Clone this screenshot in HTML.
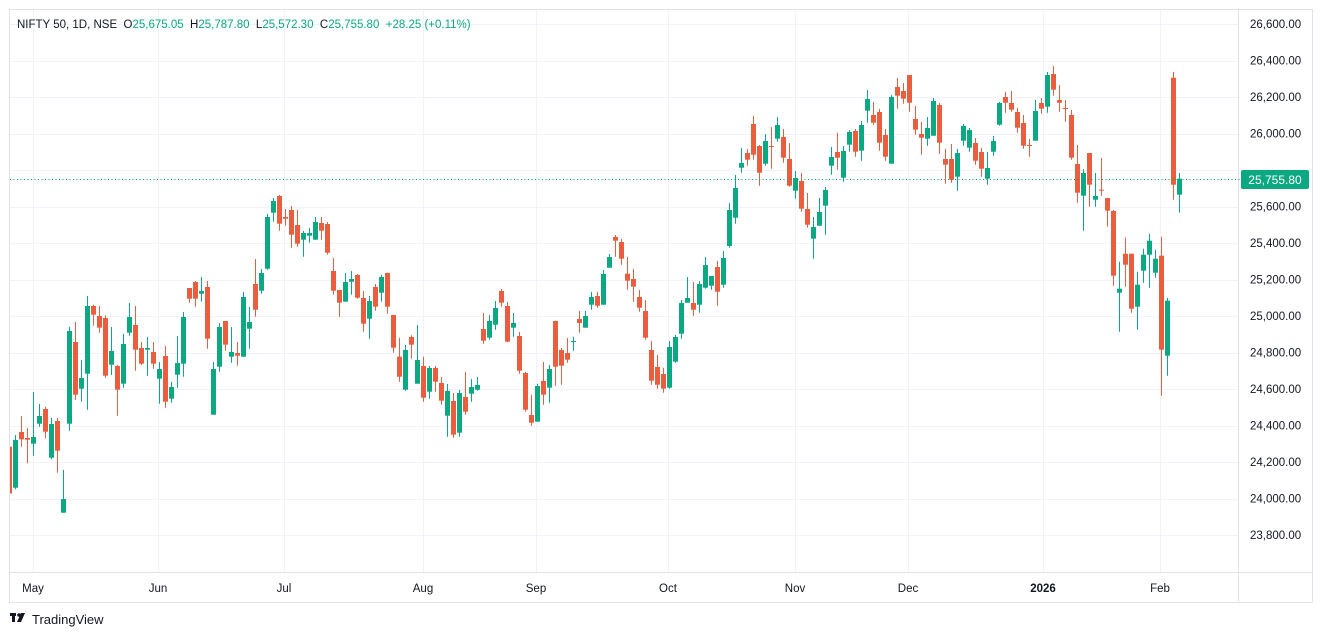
<!DOCTYPE html>
<html><head><meta charset="utf-8"><style>
html,body{margin:0;padding:0;background:#fff;}
body{width:1322px;height:637px;overflow:hidden;font-family:"Liberation Sans",sans-serif;}
svg text{font-family:"Liberation Sans",sans-serif;white-space:pre;}
</style></head><body>
<svg id="c" width="1322" height="637" xmlns="http://www.w3.org/2000/svg">
<rect x="9.5" y="9.5" width="1303" height="593" fill="#fff" stroke="#e0e3eb"/>
<g id="grid"></g>
<g id="cand"></g>
<line x1="10" y1="179.5" x2="1240" y2="179.5" stroke="#089981" stroke-dasharray="1,2.5" stroke-width="1"/>
<g id="ax" font-size="11.5" fill="#131722"></g>
<rect x="1241" y="170" width="68" height="19" rx="2" fill="#0ba882"/>
<text x="1275" y="184" font-size="12" fill="#fff" text-anchor="middle">25,755.80</text>
<text x="17" y="28" font-size="11.5" fill="#131722" xml:space="preserve">NIFTY 50, 1D, NSE  O<tspan fill="#0ba882">25,675.05</tspan>  H<tspan fill="#0ba882">25,787.80</tspan>  L<tspan fill="#0ba882">25,572.30</tspan>  C<tspan fill="#0ba882">25,755.80</tspan>  <tspan fill="#0ba882">+28.25 (+0.11%)</tspan></text>
<g transform="translate(10,613)"><rect x="0" y="0" width="6" height="3" fill="#131722"/><rect x="2" y="0" width="3" height="9" fill="#131722"/><circle cx="9" cy="2" r="1.8" fill="#131722"/><polygon points="11,0 15,0 11,9 7,9" fill="#131722"/></g>
<text x="32" y="624" font-size="13" fill="#131722">TradingView</text>
</svg>
<script>
var G='#0ba882',R='#ea5d3f';
function Y(p){return 24+(26600-p)*0.1825;}
var grid=document.getElementById('grid'),ax=document.getElementById('ax'),cand=document.getElementById('cand');
var s='';
for(var p=23800;p<=26600;p+=200){var y=Y(p);s+='<line x1="10" y1="'+(Math.round(y)+.5)+'" x2="1238" y2="'+(Math.round(y)+.5)+'" stroke="#f0f3fa"/>';}
var mx=[[33,'May'],[158,'Jun'],[284,'Jul'],[423,'Aug'],[536,'Sep'],[668,'Oct'],[795,'Nov'],[908,'Dec'],[1043,'2026'],[1160,'Feb']];
mx.forEach(function(m){s+='<line x1="'+(m[0]+.5)+'" y1="10" x2="'+(m[0]+.5)+'" y2="572" stroke="#f0f3fa"/>';});
s+='<line x1="1238.5" y1="10" x2="1238.5" y2="602" stroke="#e0e3eb"/><line x1="10" y1="572.5" x2="1312" y2="572.5" stroke="#e0e3eb"/>';
grid.innerHTML=s;
var a='';
for(var p=23800;p<=26600;p+=200){var y=Y(p);if(Math.abs(y-179)<10)continue;a+='<text x="1250" y="'+(y+4)+'">'+(p/1000|0)+','+String(p%1000).padStart(3,'0')+'.00</text>';}
mx.forEach(function(m){a+='<text x="'+m[0]+'" y="592" text-anchor="middle"'+(m[1]=='2026'?' font-weight="bold"':'')+'>'+m[1]+'</text>';});
ax.innerHTML=a;
var segs=[
[270,0,[[R,530,530,670,670],['G',495,510,653,658],[R,438,486,508,530],[R,474,504,509,580],['G',366,501,521,557],['G',402,438,461,470],[R,410,417,485,505],['G',444,462,563,568],[R,444,453,542,608],['G',600,687,728,728],['G',170,183,461,482],[R,156,216,374,390],['G',270,324,356,395],['G',78,108,311,419],[R,104,108,134,167],[R,108,138,173,188],[R,136,144,317,323],['G',171,243,284,315],[R,285,288,359,437],['G',192,222,341,353],['G',99,141,188,197],[R,108,165,239,302],[R,216,234,281,285],['G',201,234,239,317],[R,216,246,281,296],['G',276,297,326,401],[R,228,258,395,413],['G',336,351,386,398],['G',198,279,314,353],['G',126,141,281,320],[R,54,54,86,98],[R,33,36,86,110],['G',21,63,71,95],[R,33,51,206,236],['G',276,297,434,434],['G',159,171,290,305],[R,153,153,224,242],['G',171,246,260,278],[R,216,249,257,287]]],
[190,39,[['G',306,321,500,500],['G',351,396,416,476],[R,207,282,359,380],['G',237,249,302,311],['G',72,81,236,239],['G',24,33,68,95],[R,15,18,101,122],[R,57,81,86,107],[R,48,60,134,173],[R,60,105,161,170],['G',123,129,149,200],['G',114,129,137,158],['G',81,96,149,149],[R,81,99,122,149],[R,96,102,188,194],[R,204,243,302,314],[R,300,300,338,380],['G',249,276,335,335],['G',243,267,275,314],[R,252,255,323,326],[R,303,324,401,425],['G',318,333,386,446],[R,282,291,350,362],['G',254,261,308,335],[R,248,249,350,371],[R,375,375,473,488],[R,443,500,560,575],['G',465,480,599,602],[R,436,441,464,506],['G',405,510,581,581],[R,500,528,623,635],['G',528,534,605,626],[R,528,534,575,605],[R,561,579,632,644],['G',582,603,677,740],[R,609,633,734,743],['G',600,609,728,740],[R,546,621,665,674],['G',567,591,611,635],['G',561,585,599,602]]],
[230,79,[[R,249,297,332,341],['G',255,273,323,329],['G',213,234,284,299],[R,177,183,218,230],[R,216,228,335,337],['G',249,279,293,320],[R,306,318,422,431],[R,426,429,539,545],[R,494,555,578,587],['G',461,468,575,575],[R,396,453,494,524],['G',405,417,473,518],[R,272,273,410,467],[R,354,360,407,464],[R,324,369,389,398],['G',320,333,335,362],[R,243,267,279,308],['G',243,258,293,293],['G',186,201,224,239],[R,186,198,227,233],['G',120,132,224,224],['G',72,81,113,113],[R,15,21,32,80],[R,27,36,86,104],[R,81,131,152,179],[R,117,147,170,215],[R,180,201,233,245],[R,210,243,323,329],[R,333,360,452,464],[R,375,411,464,476],[R,413,432,476,488],['G',333,351,473,476],['G',315,321,395,398],['G',210,219,311,326],['G',141,204,218,218],[R,156,219,239,257],['G',153,162,224,248],['G',81,105,173,176],['G',138,138,167,179],[R,93,111,185,227],['G',63,84,164,173]]],
[70,120,[['G',399,420,528,533],['G',315,354,443,461],['G',234,279,293,308],[R,237,249,269,287],[R,138,162,254,269],[R,225,228,308,347],['G',192,213,281,287],[R,171,228,230,296],['G',141,165,206,215],[R,177,201,263,278],[R,219,267,347,350],['G',303,324,362,386],[R,309,333,416,425],[R,369,417,464,473],['G',441,471,506,566],['G',384,426,467,467],['G',351,360,407,494],['G',231,261,287,314],[R,189,246,263,299],['G',228,243,323,335],['G',180,186,224,245],[R,177,183,245,260],['G',153,165,242,272],['G',60,87,122,158],[R,96,135,158,164],[R,117,126,218,242],[R,177,195,260,272],['G',75,81,281,281],[R,24,51,77,116],[R,39,63,86,101],[R,15,15,98,125],[R,108,147,179,194],[R,156,192,203,254],['G',141,174,206,227],['G',84,93,197,197],[R,99,105,218,251],[R,237,267,284,341],[R,222,267,329,338],['G',237,249,320,362],['G',162,168,212,227],['G',174,180,233,245]]],
[60,161,[[R,234,249,302,314],[R,264,276,326,350],['G',276,324,356,374],['G',228,243,275,287],['G',126,129,194,197],[R,96,111,128,158],[R,93,129,149,155],[R,144,156,203,218],[R,165,189,257,266],[R,237,255,257,290],['G',120,153,242,242],[R,114,129,146,161],['G',36,45,140,158],[R,18,42,89,107],[R,75,120,128,155],[R,120,144,146,185],[R,150,165,293,299],[R,255,312,398,428],['G',327,339,407,512],[R,279,279,374,440],['G',339,408,419,440],[R,294,389,392,407],[R,413,414,452,500],[R,450,453,647,677],['G',605,686,698,815],[R,533,581,614,680],[R,581,581,746,758],['G',635,674,740,809],['G',566,584,632,668],['G',521,542,584,683],['G',569,596,638,653],[R,530,587,869,1007],['G',713,722,887,947],[R,36,53,374,419],['G',339,356,404,458]]]
];
var c='';
segs.forEach(function(sg){var y0=sg[0];sg[2].forEach(function(d,k){var i=sg[1]+k;var x=9.3+6*i;var col=d[0]=='G'?G:d[0];
var wt=y0+d[1]/3,bt=y0+d[2]/3,bb=y0+d[3]/3,wb=y0+d[4]/3;if(bb-bt<1)bb=bt+1;
var xl=Math.round(x-2.5);var xc=xl+2.5;
c+='<line x1="'+xc+'" y1="'+wt.toFixed(1)+'" x2="'+xc+'" y2="'+wb.toFixed(1)+'" stroke="'+col+'"/>';
c+='<rect x="'+xl+'" y="'+bt.toFixed(1)+'" width="5" height="'+(bb-bt).toFixed(1)+'" fill="'+col+'"/>';});});
cand.innerHTML='<svg x="10" y="10" width="1228" height="562" viewBox="10 10 1228 562" overflow="hidden">'+c+'</svg>';
</script>
</body></html>
